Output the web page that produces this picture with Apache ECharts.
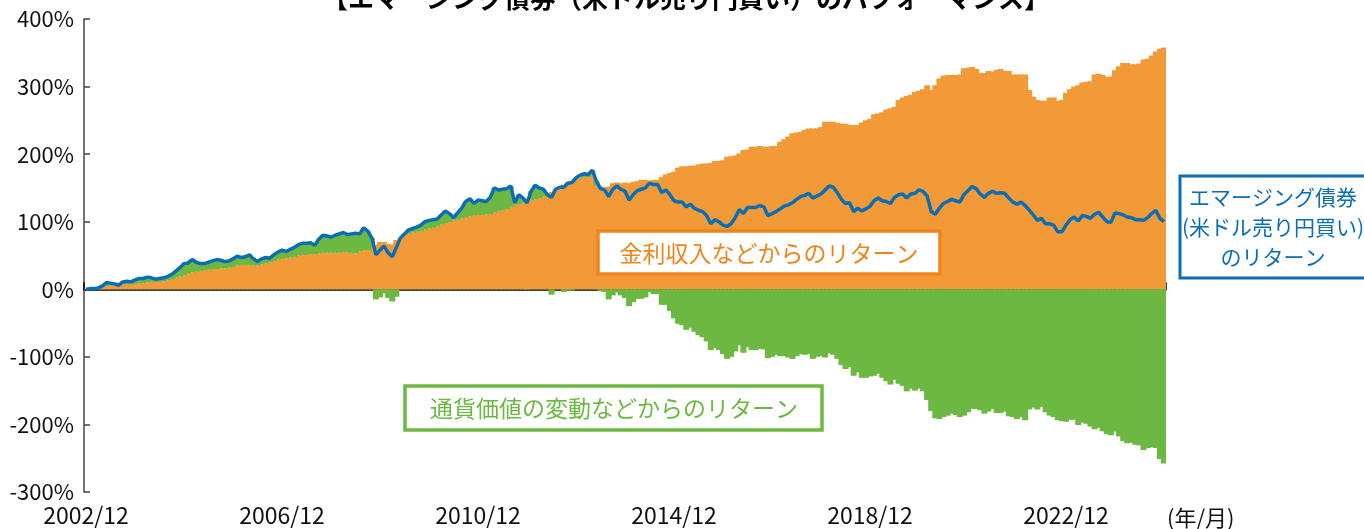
<!DOCTYPE html>
<html>
 <head>
  <meta charset="utf-8" />
  <title>エマージング債券のパフォーマンス</title>
  <script src="https://cdn.jsdelivr.net/npm/echarts@6/dist/echarts.min.js"></script>
  <style>
   html, body { margin: 0; padding: 0; background: #fff; }
  </style>
 </head>
 <body>
  <div id="main" style="width: 1364px;height:529px;"></div>
  <script type="text/javascript">

    // monthly data, 2002/12 .. 2024/12 (cumulative return, %)
    var income = [
      0,0,1,2,3,5,6,6,6,7,7,8,8,9,9,10,11,11,11,12,13,15,17,19,21,23,25,26,27,28,
      29,30,30,31,31,32,33,35,36,36,36,35,35,37,38,40,42,44,45,46,47,48,50,51,51,52,52,53,54,54,
      54,54,54,55,55,54,53,56,58,58,60,66,70,70,67,66,73,76,80,82,84,85,86,88,90,91,93,96,98,99,
      102,103,105,107,108,109,110,110,111,111,114,116,117,118,122,125,126,127,129,132,133,135,137,140,144,148,150,155,159,160,
      163,165,166,166,170,153,152,151,152,157,158,157,158,157,159,160,162,162,161,162,162,166,170,172,174,180,182,182,183,183,
      185,186,186,187,190,190,191,196,197,198,201,206,207,211,211,212,211,211,212,212,218,222,226,231,232,233,236,238,238,238,
      240,248,248,248,246,245,245,243,243,243,247,250,252,259,260,262,266,268,270,280,284,286,288,292,294,296,302,295,302,312,
      316,317,317,317,318,327,328,329,326,320,320,323,322,325,326,323,323,318,318,318,318,295,285,280,279,279,284,284,279,280,
      291,296,300,302,306,307,308,318,319,317,314,315,324,330,335,335,333,333,334,340,341,346,352,356,358
    ];
    var currency = [
      0,1,0,0,2,5,3,2,0,4,5,3,6,7,7,8,6,4,5,5,6,7,10,13,17,16,19,14,11,10,
      11,12,14,12,10,10,12,14,11,12,15,10,6,8,9,6,9,11,13,10,12,14,16,17,17,17,13,21,26,25,
      23,26,28,29,26,28,30,26,33,28,16,-15,-12,-6,-13,-18,-11,0,2,6,6,7,9,12,12,12,11,14,18,13,
      4,10,15,23,26,18,22,21,19,25,36,31,31,31,31,3,14,8,-1,13,21,15,11,0,-8,0,1,-4,-2,-2,
      2,4,5,4,6,7,-3,-4,-15,-9,-5,-9,-13,-25,-19,-14,-14,-12,-4,-7,-7,-23,-23,-32,-43,-51,-53,-60,-57,-63,
      -68,-71,-77,-90,-87,-90,-96,-103,-100,-92,-83,-94,-86,-90,-90,-88,-89,-102,-100,-97,-99,-99,-101,-103,-99,-96,-97,-96,-103,-100,
      -99,-101,-95,-97,-103,-112,-118,-115,-128,-123,-131,-131,-129,-128,-125,-131,-136,-141,-134,-140,-143,-151,-147,-150,-147,-151,-164,-180,-191,-192,
      -189,-187,-184,-186,-189,-187,-182,-177,-177,-179,-184,-181,-177,-183,-183,-181,-188,-189,-192,-189,-194,-178,-175,-178,-174,-182,-187,-189,-194,-195,
      -196,-193,-193,-201,-197,-199,-203,-207,-205,-210,-214,-216,-211,-218,-225,-228,-227,-230,-231,-238,-235,-234,-235,-251,-258
    ];
    var total = [
      0,1,1,2,5,10,9,8,6,11,12,11,14,16,16,18,17,15,16,17,19,22,27,32,38,39,44,40,38,38,
      40,42,44,43,41,42,45,49,47,48,51,45,41,45,47,46,51,55,58,56,59,62,66,68,68,69,65,74,80,79,
      77,80,82,84,81,82,83,82,91,86,76,51,58,64,54,48,62,76,82,88,90,92,95,100,102,103,104,110,116,112,
      106,113,120,130,134,127,132,131,130,136,150,147,148,149,153,128,140,135,128,145,154,150,148,140,136,148,151,151,157,158,
      165,169,171,170,176,160,149,147,137,148,153,148,145,132,140,146,148,150,157,155,155,143,147,140,131,129,129,122,126,120,
      117,115,109,97,103,100,95,93,97,106,118,112,121,121,121,124,122,109,112,115,119,123,125,128,133,137,139,142,135,138,
      141,147,153,151,143,133,127,128,115,120,116,119,123,131,135,131,130,127,136,140,141,135,141,142,147,145,138,115,111,120,
      127,130,133,131,129,140,146,152,149,141,136,142,145,142,143,142,135,129,126,129,124,117,110,102,105,97,97,95,85,85,
      95,103,107,101,109,108,105,111,114,107,100,99,113,112,110,107,106,103,103,102,106,112,117,105,100
    ];
    var xTickLabels = ['2002/12', '2006/12', '2010/12', '2014/12', '2018/12', '2022/12'];
    var yTicks = [-300, -200, -100, 0, 100, 200, 300, 400];

    var startYear = 2002, startMonth = 12;
    var months = [];
    for (var i = 0; i < total.length; i++) {
        var m = startMonth - 1 + i;
        var y = startYear + Math.floor(m / 12);
        months.push(y + '/' + ((m % 12) + 1));
    }

    var FONT = '"Noto Sans CJK JP", "Noto Sans", sans-serif';
    var ORANGE = '#F29A38', GREEN = '#6DB843', BLUE = '#0B6EB5', ORANGE_DK = '#EF8519';

    var myChart = echarts.init(document.getElementById('main'));

    myChart.setOption({
        animation: false,
        textStyle: { fontFamily: FONT },
        grid: { left: 84, right: 198, top: 19, bottom: 37 },
        xAxis: [{
            type: 'category',
            data: months,
            boundaryGap: true,
            position: 'bottom',
            axisLine: { show: false, onZero: false },
            axisTick: { show: false },
            axisLabel: {
                interval: 47,
                color: '#111',
                fontSize: 23,
                margin: 12,
                fontFamily: FONT
            }
        }, {
            type: 'category',
            data: months,
            boundaryGap: true,
            position: 'bottom',
            axisLine: { show: true, onZero: true, lineStyle: { color: '#000', width: 1.5 } },
            axisTick: { show: true, inside: true, length: 7, interval: 47, lineStyle: { color: '#000', width: 1.5 } },
            axisLabel: { show: false }
        }],
        yAxis: {
            type: 'value',
            min: yTicks[0],
            max: yTicks[yTicks.length - 1],
            interval: 100,
            axisLine: { show: true, lineStyle: { color: '#444', width: 1.5 } },
            axisTick: { show: true, inside: true, length: 6, lineStyle: { color: '#444', width: 1.5 } },
            splitLine: { show: false },
            axisLabel: {
                formatter: '{value}%',
                color: '#111',
                fontSize: 22,
                margin: 10,
                fontFamily: FONT
            }
        },
        series: [{
            name: '金利収入などからのリターン',
            type: 'bar',
            stack: 'ret',
            data: income,
            barWidth: 6,
            itemStyle: { color: ORANGE },
            z: 2
        }, {
            name: '通貨価値の変動などからのリターン',
            type: 'bar',
            stack: 'ret',
            data: currency,
            barWidth: 6,
            itemStyle: { color: GREEN },
            z: 2
        }, {
            name: 'エマージング債券（米ドル売り円買い）のリターン',
            type: 'line',
            data: total,
            symbol: 'none',
            lineStyle: { color: BLUE, width: 3.5 },
            z: 5
        }],
        graphic: [
            { type: 'text', z: 100, style: { text: '【エマージング債券（米ドル売り円買い）のパフォーマンス】',
                x: 686, y: -2, textAlign: 'center', textVerticalAlign: 'middle',
                font: 'bold 26px ' + FONT, fill: '#000' } },
            { type: 'rect', z: 100, shape: { x: 598, y: 231, width: 342, height: 43 },
              style: { fill: '#fff', stroke: ORANGE_DK, lineWidth: 3.5 } },
            { type: 'text', z: 101, style: { text: '金利収入などからのリターン',
                x: 769, y: 253, textAlign: 'center', textVerticalAlign: 'middle',
                font: '23px ' + FONT, fill: ORANGE_DK } },
            { type: 'rect', z: 100, shape: { x: 405, y: 386, width: 417, height: 44 },
              style: { fill: '#fff', stroke: GREEN, lineWidth: 3.5 } },
            { type: 'text', z: 101, style: { text: '通貨価値の変動などからのリターン',
                x: 614, y: 408, textAlign: 'center', textVerticalAlign: 'middle',
                font: '23px ' + FONT, fill: GREEN } },
            { type: 'rect', z: 100, shape: { x: 1180, y: 176, width: 190, height: 102 },
              style: { fill: '#fff', stroke: BLUE, lineWidth: 3 } },
            { type: 'text', z: 101, style: { text: 'エマージング債券\n(米ドル売り円買い)\nのリターン',
                x: 1273, y: 227, textAlign: 'center', textVerticalAlign: 'middle',
                lineHeight: 30, font: '21px ' + FONT, fill: BLUE } },
            { type: 'text', z: 100, style: { text: '(年/月)',
                x: 1167, y: 518, textAlign: 'left', textVerticalAlign: 'middle',
                font: '22px ' + FONT, fill: '#111' } }
        ]
    });
</script>
 </body>
</html>
